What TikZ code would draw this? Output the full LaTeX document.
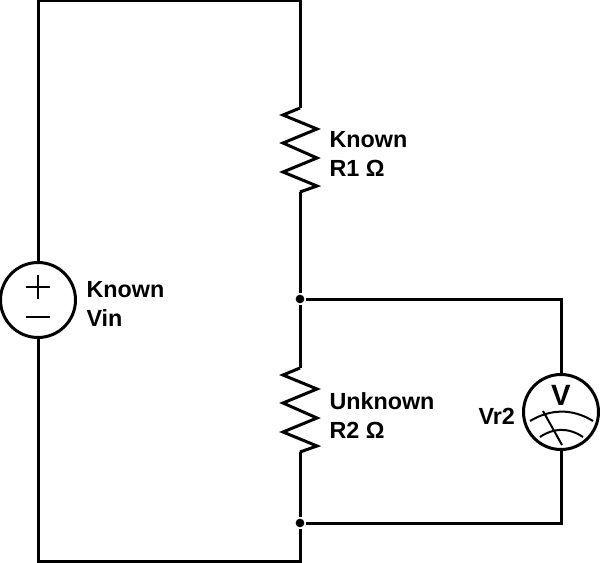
\documentclass[tikz,border=0pt]{standalone}
\usepackage{fontspec}
\setmainfont{Liberation Sans}
\begin{document}
\begin{tikzpicture}[x=0.75pt,y=-0.75pt,line width=2.25pt,line join=miter,font=\fontsize{17.5}{22}\selectfont\bfseries]
    \tikzset{
        lbl/.style={anchor=base west,inner sep=0pt},
        junction/.style={circle,fill,inner sep=0pt,minimum size=6.5pt},
        instrument/.style={circle,draw,inner sep=0pt,minimum size=56.25pt},
        thin part/.style={line width=1.5pt},
        zigzag/.pic={
            \draw (0,0) -- (-17,7) -- (17,21) -- (-17,35) -- (17,50)
                -- (-17,64) -- (17,78) -- (0,84);
        }
    }
    \useasboundingbox (0,0) rectangle (600,563);

    \node[instrument] (vin) at (38,300) {};
    \node[instrument] (vr) at (561,412) {};
    \coordinate (tl) at (38,1);
    \coordinate (tr) at (300,1);
    \coordinate (bl) at (38,561);
    \coordinate (br) at (300,561);
    \coordinate (r1t) at (300,108);
    \coordinate (r1b) at (300,192);
    \coordinate (r2t) at (300,368);
    \coordinate (r2b) at (300,452);
    \node[junction] (ja) at (300,299) {};
    \node[junction] (jb) at (300,523) {};
    \coordinate (ma) at (561,299);
    \coordinate (mb) at (561,523);

    \draw (vin) -- (tl) -- (tr) -- (r1t);
    \draw (r1b) -- (ja) -- (r2t);
    \draw (r2b) -- (jb) -- (br) -- (bl) -- (vin);
    \draw (ja) -- (ma) -- (vr);
    \draw (jb) -- (mb) -- (vr);
    \pic at (r1t) {zigzag};
    \pic at (r2t) {zigzag};

    % source signs
    \draw[thin part] ([xshift=-9pt,yshift=9.75pt] vin.center) -- ([xshift=9pt,yshift=9.75pt] vin.center);
    \draw[thin part] ([yshift=18.75pt] vin.center) -- ([yshift=0.75pt] vin.center);
    \draw[thin part] ([xshift=-9pt,yshift=-12.75pt] vin.center) -- ([xshift=9pt,yshift=-12.75pt] vin.center);

    % meter face
    \draw[thin part] (530,421) .. controls (550,409) and (572,408) .. (593,421);
    \draw[thin part] (540,437) .. controls (553,428) and (568,427) .. (583,437);
    \draw[thin part] (543,411) -- (562,445);

    \node[lbl] (r1a) at (328,148) {Known};
    \node[lbl] (r1c) at (328,177) {R1 Ω};
    \node[lbl] (r2a) at (328,409) {Unknown};
    \node[lbl] (r2c) at (328,438) {R2 Ω};
    \node[lbl] (vina) at (85,297) {Known};
    \node[lbl] (vinc) at (85,326) {Vin};
    \node[lbl] (vrl) at (477,424) {Vr2};
    \node[anchor=base,inner sep=0pt,font=\fontsize{22}{24}\selectfont\bfseries] (vrv) at (561,405) {V};
\end{tikzpicture}
\end{document}
